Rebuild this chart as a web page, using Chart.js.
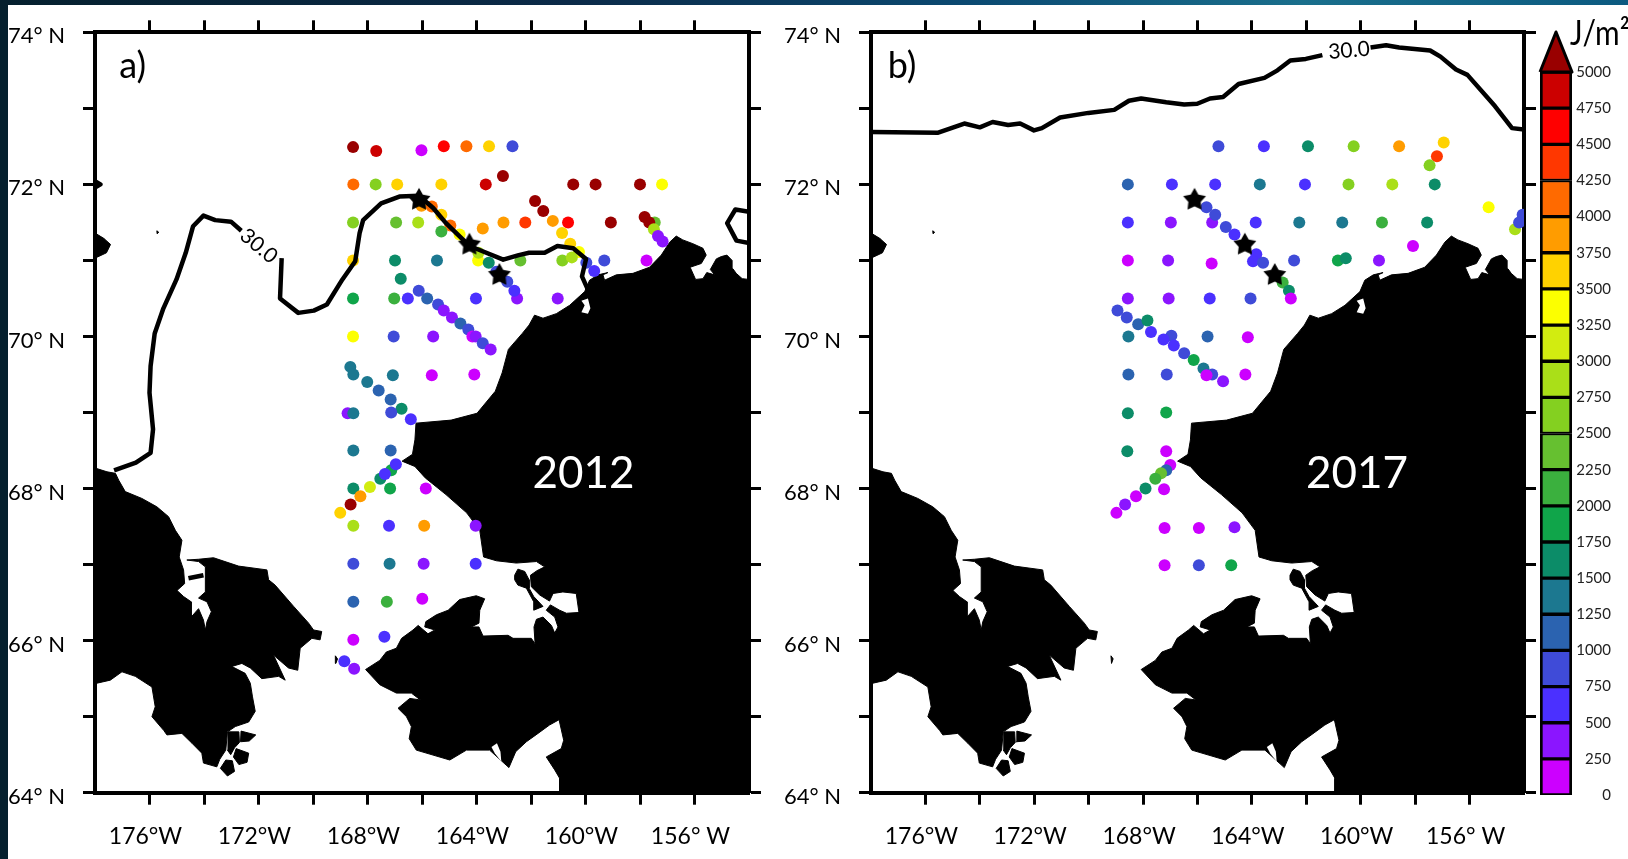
<!DOCTYPE html>
<html>
<head>
<meta charset="utf-8">
<title>Heat content 2012 and 2017</title>
<style>
  html, body { margin: 0; padding: 0; background: #fff; overflow: hidden; }
  body { width: 1628px; height: 859px; position: relative; }
  #edgeLeft { position: absolute; left: 0; top: 0; width: 8px; height: 859px; background: #05202e; }
  #edgeTop { position: absolute; left: 0; top: 0; width: 1628px; height: 5px;
    background: linear-gradient(90deg, #05202e, #0b2a48 35%, #0b4a72 60%, #1a6f8c 80%, #0c5a80); }
  canvas { position: absolute; top: 0; }
  #panelA { left: 0; }
  #panelB { left: 775px; }
  #colorBar { left: 1538px; }
</style>
<script src="https://cdn.jsdelivr.net/npm/chart.js@4"></script>
</head>
<body>
<div id="edgeLeft"></div>
<div id="edgeTop"></div>
<canvas id="panelA" width="770" height="859"></canvas>
<canvas id="panelB" width="763" height="859"></canvas>
<canvas id="colorBar" width="90" height="859"></canvas>
<script>
'use strict';

//////////////////////
// data
//////////////////////

const lonTickLabels = ['176°W', '172°W', '168°W', '164°W', '160°W', '156° W'];
const lonTickValues = [-176, -172, -168, -164, -160, -156];
const latTickLabels = ['64° N', '66° N', '68° N', '70° N', '72° N', '74° N'];
const latTickValues = [64, 66, 68, 70, 72, 74];

// colour bar bins, 250 J/m2 wide
const binEdges = [0, 250, 500, 750, 1000, 1250, 1500, 1750, 2000, 2250, 2500, 2750, 3000, 3250, 3500, 3750, 4000, 4250, 4500, 4750, 5000];
const binColors = ['#cc00ff', '#8b15ff', '#4b30ff', '#3f4bd8', '#2b63b0', '#1c7890', '#0c8c68', '#10a54a', '#3bb03e', '#66c030',
  '#84d020', '#aadf18', '#d2ec10', '#fcff00', '#ffd200', '#ff9c00', '#ff6a00', '#ff3700', '#ff0000', '#cc0000'];
const overColor = '#990000';

// stations 2012
const lon2012 = [-168.53, -167.68, -166.02, -165.20, -164.37, -163.54, -162.68,
  -168.52, -167.70, -166.91, -165.29, -163.66, -163.03, -160.45, -159.63, -158.00, -157.19,
  -166.02, -165.64, -165.29, -164.96, -164.62, -163.94, -163.93, -163.55, -163.27, -162.87, -162.51, -162.61,
  -168.53, -166.95, -166.14, -165.29, -163.77, -163.01, -162.21, -161.20, -160.64, -159.07,
  -157.46, -157.83, -157.66, -157.49, -157.34, -157.17,
  -161.85, -161.55, -160.86, -160.56, -160.24, -160.85, -160.50, -162.39, -159.97, -159.31, -157.76, -159.68,
  -168.53, -166.99, -165.45, -166.78,
  -168.53, -167.02, -166.52, -166.12, -165.81, -165.41, -165.20, -164.90, -164.59, -164.30, -164.15, -164.03, -163.77, -163.48, -164.02, -161.02,
  -168.53, -167.04, -165.59,
  -168.63, -168.52, -167.07, -165.64, -164.08,
  -168.01, -167.59, -167.15, -166.75, -166.41, -168.73, -168.52, -167.13,
  -168.52, -167.15, -167.53, -167.13, -167.36, -166.96,
  -168.52, -167.91, -168.26, -168.62, -169.00, -167.17, -165.86,
  -168.52, -167.21, -165.92, -164.03,
  -168.52, -167.19, -165.94, -164.03,
  -168.52, -167.29, -165.99,
  -168.52, -167.38, -168.85, -168.49];
const lat2012 = [72.49, 72.44, 72.45, 72.50, 72.50, 72.50, 72.50,
  72.00, 72.00, 72.00, 72.00, 72.00, 72.11, 72.00, 72.00, 72.00, 72.00,
  71.72, 71.71, 71.60, 71.46, 71.34, 71.00, 71.10, 70.97, 70.85, 70.72, 70.50, 70.60,
  71.50, 71.50, 71.50, 71.38, 71.42, 71.50, 71.50, 71.52, 71.50, 71.50,
  71.50, 71.57, 71.50, 71.41, 71.32, 71.25,
  71.78, 71.65, 71.36, 71.22, 71.11, 71.00, 71.04, 71.00, 70.97, 71.00, 71.00, 70.86,
  71.00, 71.00, 71.00, 70.76,
  70.50, 70.50, 70.50, 70.60, 70.50, 70.42, 70.34, 70.25, 70.17, 70.09, 70.00, 70.00, 69.91, 69.83, 70.50, 70.50,
  70.00, 70.00, 70.00,
  69.60, 69.50, 69.49, 69.49, 69.50,
  69.40, 69.29, 69.17, 69.05, 68.91, 68.99, 68.99, 69.00,
  68.50, 68.50, 68.13, 68.24, 68.19, 68.32,
  68.00, 68.02, 67.90, 67.79, 67.68, 68.00, 68.00,
  67.51, 67.51, 67.51, 67.51,
  67.01, 67.01, 67.01, 67.01,
  66.51, 66.51, 66.55,
  66.01, 66.05, 65.73, 65.63];
const heat2012 = [5200, 4875, 125, 4625, 4125, 3625, 875,
  4125, 2625, 3625, 3625, 4875, 5200, 5200, 5200, 5200, 3375,
  3875, 4125, 3625, 4125, 3375, 3375, 2875, 1625, 875, 875, 375, 625,
  2625, 2375, 2875, 2125, 3875, 3875, 4375, 3875, 4625, 5200,
  2375, 5200, 5200, 2875, 375, 375,
  5200, 5200, 3625, 3625, 3375, 2625, 2875, 2375, 875, 875, 125, 625,
  3625, 1625, 1375, 1625,
  1875, 2125, 625, 875, 1125, 875, 375, 375, 1125, 875, 125, 375, 875, 375, 625, 375,
  3375, 875, 375,
  1375, 1375, 1375, 125, 125,
  1375, 1125, 1125, 1625, 625, 375, 1375, 875,
  1375, 1125, 1625, 1875, 625, 625,
  1625, 3125, 3875, 5200, 3625, 1875, 125,
  2875, 625, 3875, 375,
  875, 1375, 375, 625,
  1125, 2125, 125,
  125, 625, 625, 375];

// stations 2017
const lon2017 = [-165.23, -163.56, -161.94, -160.26, -158.59, -156.95, -157.20, -157.47,
  -168.56, -166.94, -165.35, -163.71, -162.05, -160.45, -158.84, -157.28,
  -168.56, -166.98, -165.46, -163.86, -162.26, -160.68, -159.22, -157.56,
  -165.67, -165.35, -164.96, -164.64, -163.84, -163.96, -163.59, -162.87, -162.64, -162.57,
  -168.56, -167.08, -165.48, -162.45, -160.84, -160.55, -159.33, -158.08,
  -155.30, -154.33, -154.05, -154.18,
  -168.56, -167.06, -165.55, -164.05,
  -168.94, -168.60, -168.18, -167.84, -167.71, -166.96, -167.25, -166.87, -166.49, -166.14, -165.78, -165.46, -165.06, -165.67,
  -168.54, -165.63, -164.15,
  -168.54, -167.13, -164.24,
  -168.56, -167.15,
  -168.58, -167.15,
  -167.00, -167.15, -167.34, -167.55, -167.91, -167.23, -168.26, -168.66, -168.98,
  -167.21, -165.95, -164.64,
  -167.21, -165.95, -164.76];
const lat2017 = [72.50, 72.50, 72.50, 72.50, 72.50, 72.55, 72.37, 72.25,
  72.00, 72.00, 72.00, 72.00, 72.00, 72.00, 72.00, 72.00,
  71.50, 71.50, 71.50, 71.50, 71.50, 71.50, 71.50, 71.50,
  71.70, 71.60, 71.44, 71.34, 71.08, 70.99, 70.97, 70.71, 70.60, 70.50,
  71.00, 71.00, 70.96, 71.00, 71.00, 71.03, 71.00, 71.19,
  71.70, 71.41, 71.60, 71.50,
  70.50, 70.50, 70.50, 70.50,
  70.34, 70.25, 70.16, 70.21, 70.06, 70.01, 69.96, 69.88, 69.78, 69.69, 69.58, 69.50, 69.41, 69.49,
  70.00, 70.00, 69.99,
  69.50, 69.50, 69.50,
  68.99, 69.00,
  68.49, 68.49,
  68.31, 68.24, 68.20, 68.13, 68.00, 67.99, 67.90, 67.79, 67.68,
  67.48, 67.48, 67.49,
  66.99, 66.99, 66.99];
const heat2017 = [875, 625, 1625, 2625, 3875, 3625, 4375, 2625,
  1125, 625, 625, 1375, 625, 2625, 2875, 1625,
  625, 375, 375, 625, 1375, 1375, 2125, 1625,
  875, 875, 875, 625, 625, 625, 875, 2125, 1625, 125,
  125, 375, 125, 875, 1875, 1625, 375, 125,
  3375, 2875, 875, 875,
  375, 375, 625, 875,
  875, 875, 1125, 1625, 625, 875, 625, 625, 875, 1875, 1375, 875, 375, 125,
  1375, 1125, 125,
  1125, 875, 125,
  1625, 1875,
  1625, 125,
  125, 1125, 2375, 2125, 1625, 125, 125, 375, 125,
  125, 125, 375,
  125, 875, 1875];

// marked stations, same in both years
const starLon = [-166.11, -164.26, -163.16];
const starLat = [71.81, 71.22, 70.82];

// coastlines as [lon, lat]
const coastAmerica = [[-154.00, 70.75], [-154.25, 70.76], [-154.47, 70.83], [-154.59, 70.89], [-154.62, 71.00], [-154.81, 71.07], [-155.02, 71.05],
  [-155.20, 71.02], [-155.42, 70.88], [-155.26, 70.81], [-155.55, 70.84], [-155.69, 70.76], [-155.96, 70.75], [-156.16, 70.91], [-155.75, 70.96],
  [-155.57, 71.07], [-155.69, 71.16], [-156.06, 71.22], [-156.43, 71.27], [-156.67, 71.32], [-156.91, 71.24], [-157.22, 71.07], [-157.65, 70.91],
  [-158.26, 70.83], [-158.87, 70.81], [-159.30, 70.74], [-159.36, 70.81], [-159.18, 70.84], [-159.54, 70.81], [-159.85, 70.74], [-160.03, 70.59],
  [-160.58, 70.41], [-161.07, 70.30], [-161.56, 70.24], [-161.87, 70.28], [-162.07, 70.15], [-162.32, 70.04],
  [-162.83, 69.83], [-163.06, 69.52], [-163.31, 69.28], [-163.98, 68.99], [-164.93, 68.90], [-166.22, 68.86], [-166.26, 68.64], [-166.35, 68.45],
  [-166.73, 68.36], [-166.26, 68.29], [-165.88, 68.14], [-165.12, 67.92], [-164.36, 67.68], [-163.88, 67.45], [-163.74, 67.10], [-163.27, 67.05],
  [-162.54, 67.02], [-161.80, 67.04], [-161.50, 66.97], [-161.78, 66.92], [-162.02, 66.86], [-161.99, 66.71], [-161.68, 66.60], [-161.32, 66.52],
  [-161.19, 66.62], [-160.83, 66.64], [-160.34, 66.62], [-160.24, 66.37], [-160.70, 66.36], [-160.95, 66.40], [-161.29, 66.47], [-161.44, 66.40],
  [-161.13, 66.31], [-161.01, 66.18], [-161.13, 66.10], [-161.25, 66.20], [-161.56, 66.31], [-161.80, 66.28], [-161.89, 66.18], [-161.85, 65.96],
  [-161.99, 66.03], [-162.66, 66.03], [-162.84, 66.07], [-163.76, 66.06], [-163.91, 66.18], [-164.19, 66.18], [-163.91, 66.23], [-163.88, 66.40],
  [-163.70, 66.55], [-164.01, 66.59], [-164.62, 66.54], [-165.04, 66.40], [-165.47, 66.34], [-165.86, 66.25], [-165.90, 66.18], [-165.53, 66.14],
  [-165.78, 66.09], [-166.14, 66.20], [-166.33, 66.14], [-166.75, 66.03], [-166.94, 65.90], [-167.31, 65.85], [-167.55, 65.74], [-168.07, 65.62],
  [-167.55, 65.42], [-166.94, 65.31], [-166.39, 65.31], [-166.06, 65.22], [-166.45, 65.24], [-166.88, 65.11], [-166.57, 65.00], [-166.39, 64.87],
  [-166.47, 64.71], [-166.21, 64.56], [-164.98, 64.43], [-164.37, 64.56], [-163.52, 64.56], [-162.81, 64.33], [-162.56, 64.54], [-162.17, 64.67],
  [-161.78, 64.77], [-161.32, 64.89], [-160.97, 64.96], [-160.80, 64.69], [-160.89, 64.58], [-161.44, 64.47], [-161.13, 64.30], [-160.95, 64.19],
  [-160.95, 64.00], [-154.00, 64.00], [-154.00, 70.75]];
const coastBaldwin = [[-162.60, 66.86], [-162.48, 66.94], [-162.23, 66.91], [-162.07, 66.80], [-162.07, 66.69], [-161.90, 66.58], [-161.56, 66.45],
  [-161.90, 66.40], [-161.90, 66.51], [-162.17, 66.69], [-162.48, 66.73], [-162.60, 66.80], [-162.60, 66.86]];
const coastChukotka = [[-178.00, 68.27], [-177.56, 68.22], [-177.25, 68.20], [-177.13, 68.11], [-176.89, 67.96], [-176.28, 67.87], [-175.73, 67.76],
  [-175.30, 67.63], [-175.05, 67.45], [-174.81, 67.32], [-174.91, 67.10], [-174.75, 66.93], [-174.71, 66.75], [-174.99, 66.66], [-174.75, 66.58],
  [-174.47, 66.51], [-174.47, 66.31], [-174.20, 66.42], [-174.02, 66.27], [-173.95, 66.14], [-173.89, 66.25], [-173.73, 66.38], [-173.89, 66.51],
  [-174.20, 66.56], [-173.95, 66.64], [-173.95, 66.97], [-174.20, 67.04], [-174.63, 67.06], [-174.20, 67.07], [-173.65, 67.09], [-172.73, 66.98],
  [-171.69, 66.93], [-171.63, 66.80], [-171.39, 66.73], [-170.71, 66.45], [-170.16, 66.23], [-169.98, 66.14], [-169.68, 66.12], [-169.74, 66.01],
  [-170.04, 66.03], [-170.47, 65.90], [-170.56, 65.61], [-170.90, 65.64], [-171.45, 65.81], [-171.02, 65.48], [-171.26, 65.53], [-171.88, 65.50],
  [-172.30, 65.64], [-172.61, 65.70], [-172.98, 65.66], [-172.49, 65.57], [-172.30, 65.44], [-172.22, 65.26], [-172.12, 65.07], [-172.36, 64.93],
  [-172.85, 64.87], [-173.14, 64.80], [-173.20, 64.56], [-173.42, 64.44], [-173.53, 64.34], [-174.02, 64.39], [-174.08, 64.52], [-174.44, 64.65],
  [-174.81, 64.78], [-175.36, 64.76], [-175.48, 64.82], [-175.91, 65.00], [-175.79, 65.13], [-175.91, 65.39], [-176.52, 65.53], [-177.01, 65.59],
  [-177.44, 65.48], [-177.93, 65.44], [-178.00, 65.44], [-178.00, 68.27]];
const islandOne = [[-172.64, 64.81], [-172.10, 64.76], [-172.34, 64.68], [-172.66, 64.67], [-172.64, 64.81]];
const islandTwo = [[-172.82, 64.58], [-172.36, 64.52], [-172.42, 64.40], [-172.72, 64.37], [-172.92, 64.47], [-172.82, 64.58]];
const islandThree = [[-173.40, 64.32], [-173.20, 64.43], [-172.96, 64.42], [-172.88, 64.28], [-173.14, 64.22], [-173.40, 64.32]];
const islandFour = [[-173.12, 64.80], [-172.72, 64.80], [-172.70, 64.66], [-172.88, 64.59], [-173.02, 64.50], [-173.14, 64.56], [-173.12, 64.80]];
const coastWrangel = [[-178.00, 71.36], [-177.68, 71.29], [-177.43, 71.21], [-177.58, 71.10], [-178.00, 71.03], [-178.00, 71.36]];
const islandDiomede = [[-169.18, 65.80], [-169.10, 65.76], [-169.16, 65.70], [-169.18, 65.80]];
const islandSpeck = [[-175.73, 71.39], [-175.66, 71.37], [-175.72, 71.35], [-175.73, 71.39]];

// lakes and lagoons cut out of the land
const waterLagoon = [[-160.15, 70.47], [-159.91, 70.50], [-159.82, 70.37], [-159.91, 70.30], [-160.15, 70.32], [-160.03, 70.41], [-160.15, 70.47]];
const waterPond = [[-163.45, 64.60], [-163.25, 64.65], [-163.12, 64.54], [-163.09, 64.41], [-163.33, 64.52], [-163.45, 64.60]];

// 30.0 contour, the gap is where the label sits
const contour2012West = [[-177.30, 68.24], [-176.50, 68.34], [-175.96, 68.47], [-175.87, 68.78], [-176.00, 69.26], [-175.96, 69.61], [-175.81, 70.04],
  [-175.49, 70.37], [-175.01, 70.75], [-174.67, 71.10], [-174.40, 71.45], [-174.02, 71.59], [-173.59, 71.53], [-173.01, 71.51], [-172.63, 71.39]];
const contour2012East = [[-171.15, 71.03], [-171.21, 70.50], [-170.54, 70.31], [-169.97, 70.34], [-169.49, 70.42], [-168.92, 70.75], [-168.45, 70.99],
  [-168.29, 71.36], [-168.16, 71.53], [-167.50, 71.75], [-166.83, 71.84], [-166.11, 71.85], [-165.59, 71.69], [-165.12, 71.49], [-164.26, 71.19],
  [-163.98, 71.15], [-163.02, 71.01], [-162.45, 71.07], [-162.07, 71.10], [-161.50, 71.10], [-161.03, 71.19], [-160.45, 71.16], [-159.98, 71.02],
  [-160.13, 70.79], [-159.88, 70.59]];
const contour2012Right = [[-154.00, 71.64], [-154.50, 71.67], [-154.80, 71.49], [-154.46, 71.26], [-154.00, 71.23]];
const contour2012Stub = [[-174.57, 66.82], [-174.02, 66.86]];
const contour2012Dot = [[-178.00, 72.04], [-177.80, 72.00], [-178.00, 71.96]];
const contour2017West = [[-178.00, 72.69], [-175.53, 72.68], [-174.57, 72.80], [-174.00, 72.75], [-173.53, 72.82], [-172.96, 72.78], [-172.52, 72.80],
  [-172.01, 72.71], [-171.72, 72.74], [-171.05, 72.88], [-170.01, 72.94], [-169.06, 72.98], [-168.52, 73.10], [-168.07, 73.13], [-167.15, 73.08],
  [-166.49, 73.05], [-166.01, 73.06], [-165.54, 73.13], [-165.06, 73.15], [-164.49, 73.32], [-163.54, 73.40], [-163.06, 73.50], [-162.59, 73.63],
  [-162.02, 73.65], [-161.41, 73.70]];
const contour2017East = [[-159.64, 73.80], [-159.07, 73.83], [-158.59, 73.80], [-157.45, 73.76], [-157.07, 73.68], [-156.50, 73.51], [-156.08, 73.44],
  [-155.07, 73.03], [-154.44, 72.74], [-154.00, 72.72]];

// filled triangle on the colour bar, above 5000
const arrowX = [0, 0.5, 1, 0];
const arrowY = [5000, 5277, 5000, 5000];

//////////////////////
// helpers
//////////////////////

Chart.defaults.font.family = 'Lato, "Open Sans", sans-serif';
Chart.defaults.color = '#000';

function colorOf(value) {
    if (value >= binEdges[binEdges.length - 1]) {
        return overColor;
    }
    for (let i = 0; i < binColors.length; i++) {
        if (value < binEdges[i + 1]) {
            return binColors[i];
        }
    }
    return overColor;
}

function toPoints(pairs) {
    return pairs.map(p => ({x: p[0], y: p[1]}));
}

function zipPoints(xs, ys) {
    return xs.map((x, i) => ({x: x, y: ys[i]}));
}

function makeStar() {
    const size = 26;
    const c = document.createElement('canvas');
    c.width = size;
    c.height = size;
    const g = c.getContext('2d');
    g.fillStyle = '#000';
    g.beginPath();
    for (let i = 0; i < 10; i++) {
        const r = i % 2 === 0 ? 12 : 6.5;
        const a = -Math.PI / 2 + i * Math.PI / 5;
        g.lineTo(size / 2 + r * Math.cos(a), size / 2 + 1 + r * Math.sin(a));
    }
    g.closePath();
    g.fill();
    return c;
}

const starImage = makeStar();

// text that sits on the map, placed in lon/lat
const mapText = {
    id: 'mapText',
    afterDatasetsDraw(chart, args, opts) {
        const ctx = chart.ctx;
        for (const t of opts.items) {
            ctx.save();
            ctx.translate(chart.scales.x.getPixelForValue(t.lon), chart.scales.y.getPixelForValue(t.lat));
            ctx.rotate(t.angle * Math.PI / 180);
            ctx.fillStyle = t.color;
            ctx.font = t.size + 'px Lato, "Open Sans", sans-serif';
            ctx.textAlign = 'center';
            ctx.textBaseline = 'middle';
            ctx.fillText(t.text, 0, 0);
            ctx.restore();
        }
    }
};

function landDataset(pairs) {
    return {
        data: toPoints(pairs),
        showLine: true,
        fill: 'shape',
        backgroundColor: '#000',
        borderColor: '#000',
        borderWidth: 1,
        pointRadius: 0,
        order: 6
    };
}

function waterDataset(pairs) {
    return {
        data: toPoints(pairs),
        showLine: true,
        fill: 'shape',
        backgroundColor: '#fff',
        borderColor: '#fff',
        borderWidth: 0,
        pointRadius: 0,
        order: 5
    };
}

function contourDataset(pairs) {
    return {
        data: toPoints(pairs),
        showLine: true,
        fill: false,
        borderColor: '#000',
        borderWidth: 4.5,
        borderJoinStyle: 'round',
        pointRadius: 0,
        order: 2
    };
}

function stationDataset(lons, lats, heats) {
    return {
        data: zipPoints(lons, lats),
        pointBackgroundColor: heats.map(colorOf),
        pointBorderWidth: 0,
        pointRadius: 6,
        showLine: false,
        order: 3
    };
}

function starDataset() {
    return {
        data: zipPoints(starLon, starLat),
        pointStyle: starImage,
        pointRadius: 12,
        showLine: false,
        order: 1
    };
}

function mapDatasets() {
    return [
        landDataset(coastAmerica),
        landDataset(coastBaldwin),
        landDataset(coastChukotka),
        landDataset(islandOne),
        landDataset(islandTwo),
        landDataset(islandThree),
        landDataset(islandFour),
        landDataset(coastWrangel),
        landDataset(islandDiomede),
        landDataset(islandSpeck),
        waterDataset(waterLagoon),
        waterDataset(waterPond)
    ];
}

function lonAxis(position, heightPx, showLabels) {
    return {
        type: 'linear',
        position: position,
        min: -178,
        max: -154,
        afterBuildTicks(axis) {
            axis.ticks = [];
            for (let v = -176; v <= -156; v += 2) {
                axis.ticks.push({value: v});
            }
        },
        afterFit(axis) {
            axis.height = heightPx;
        },
        grid: {drawOnChartArea: false, tickLength: 12, tickWidth: 3, tickColor: '#000'},
        border: {display: true, color: '#000', width: 4},
        ticks: {
            display: showLabels,
            autoSkip: false,
            maxRotation: 0,
            padding: 18,
            labelOffset: -4,
            font: {size: 23},
            callback(v) {
                const i = lonTickValues.indexOf(v);
                return i < 0 ? '' : lonTickLabels[i];
            }
        }
    };
}

function latAxis(position, widthPx, showLabels) {
    return {
        type: 'linear',
        position: position,
        min: 64,
        max: 74,
        afterBuildTicks(axis) {
            axis.ticks = [];
            for (let v = 64; v <= 74; v += 1) {
                axis.ticks.push({value: v});
            }
        },
        afterFit(axis) {
            axis.width = widthPx;
        },
        grid: {drawOnChartArea: false, tickLength: 12, tickWidth: 3, tickColor: '#000'},
        border: {display: true, color: '#000', width: 4},
        ticks: {
            display: showLabels,
            autoSkip: false,
            padding: 18,
            labelOffset: 4,
            font: {size: 22},
            callback(v) {
                const i = latTickValues.indexOf(v);
                return i < 0 ? '' : latTickLabels[i];
            }
        }
    };
}

function makePanel(canvasId, datasets, items, leftPx, rightPx) {
    return new Chart(document.getElementById(canvasId), {
        type: 'scatter',
        data: {datasets: datasets},
        options: {
            responsive: false,
            animation: false,
            layout: {padding: 0},
            plugins: {legend: {display: false}, tooltip: {enabled: false}, mapText: {items: items}},
            scales: {
                x: lonAxis('bottom', 66.3, true),
                x2: lonAxis('top', 32.3, false),
                y: latAxis('left', leftPx, true),
                y2: latAxis('right', rightPx, false)
            }
        },
        plugins: [mapText]
    });
}

function makeColorBar() {
    const cells = binColors.map((color, i) => ({
        type: 'bar',
        data: [[binEdges[i], binEdges[i + 1]]],
        backgroundColor: color,
        borderColor: '#000',
        borderWidth: {left: 3, right: 3, top: 2, bottom: 2},
        borderSkipped: false,
        grouped: false,
        barPercentage: 1,
        categoryPercentage: 1,
        order: 2
    }));
    cells.push({
        type: 'line',
        xAxisID: 'xArrow',
        data: zipPoints(arrowX, arrowY),
        fill: 'shape',
        backgroundColor: overColor,
        borderColor: '#000',
        borderWidth: 3,
        borderJoinStyle: 'round',
        pointRadius: 0,
        clip: false,
        order: 1
    });
    const unitLabel = {
        id: 'unitLabel',
        afterDraw(chart) {
            const ctx = chart.ctx;
            ctx.save();
            ctx.translate(32, 34);
            ctx.scale(0.88, 1);
            ctx.fillStyle = '#000';
            ctx.font = '34px Lato, "Open Sans", sans-serif';
            ctx.textAlign = 'left';
            ctx.textBaseline = 'middle';
            ctx.fillText('J/m²', 0, 0);
            ctx.restore();
        }
    };
    return new Chart(document.getElementById('colorBar'), {
        data: {labels: [''], datasets: cells},
        options: {
            responsive: false,
            animation: false,
            layout: {padding: {left: 2, right: 17, top: 32, bottom: 64}},
            plugins: {legend: {display: false}, tooltip: {enabled: false}},
            scales: {
                x: {display: false},
                xArrow: {type: 'linear', display: false, min: 0, max: 1},
                y: {
                    position: 'right',
                    min: 0,
                    max: 5277,
                    afterBuildTicks(axis) {
                        axis.ticks = binEdges.map(v => ({value: v}));
                    },
                    afterFit(axis) {
                        axis.width = 39;
                    },
                    grid: {display: false},
                    border: {display: false},
                    ticks: {
                        autoSkip: false,
                        crossAlign: 'far',
                        padding: 3,
                        color: '#222',
                        font: {size: 15},
                        callback(v) {
                            return String(v);
                        }
                    }
                }
            }
        },
        plugins: [unitLabel]
    });
}

//////////////////////
// start
//////////////////////

makePanel('panelA', [
    starDataset(),
    contourDataset(contour2012West),
    contourDataset(contour2012East),
    contourDataset(contour2012Right),
    contourDataset(contour2012Stub),
    contourDataset(contour2012Dot),
    stationDataset(lon2012, lat2012, heat2012)
].concat(mapDatasets()), [
    {text: 'a)', lon: -176.62, lat: 73.55, angle: 0, size: 36, color: '#000'},
    {text: '2012', lon: -160.07, lat: 68.2, angle: 0, size: 44, color: '#fff'},
    {text: '30.0', lon: -171.99, lat: 71.19, angle: 40, size: 21, color: '#000'}
], 95, 21);

makePanel('panelB', [
    starDataset(),
    contourDataset(contour2017West),
    contourDataset(contour2017East),
    stationDataset(lon2017, lat2017, heat2017)
].concat(mapDatasets()), [
    {text: 'b)', lon: -176.86, lat: 73.55, angle: 0, size: 36, color: '#000'},
    {text: '2017', lon: -160.14, lat: 68.2, angle: 0, size: 44, color: '#fff'},
    {text: '30.0', lon: -160.43, lat: 73.76, angle: -5, size: 21, color: '#000'}
], 96, 14);

makeColorBar();
</script>
</body>
</html>
